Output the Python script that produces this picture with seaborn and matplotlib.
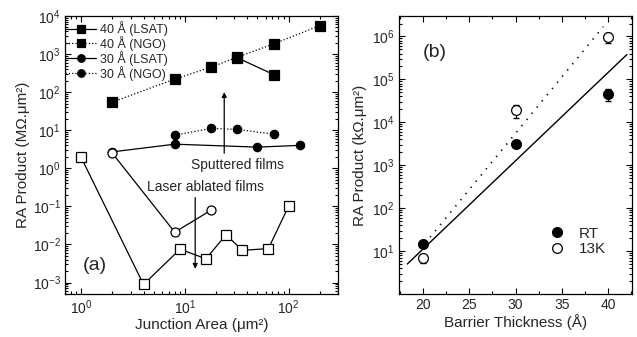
import numpy as np
import matplotlib
matplotlib.use("Agg")
import matplotlib.pyplot as plt
import matplotlib.ticker as mticker
from matplotlib.lines import Line2D
import seaborn as sns

# ---------------- data: panel (a) ----------------
lsat40_area = [32, 72]
lsat40_ra = [800, 290]
ngo40_area = [2, 8, 18, 32, 72, 200]
ngo40_ra = [55, 220, 455, 830, 1850, 5600]
lsat30_area = [2, 8, 50, 128]
lsat30_ra = [2.7, 4.3, 3.6, 4.0]
ngo30_area = [8, 18, 32, 72]
ngo30_ra = [7.4, 11.2, 10.5, 7.9]
laser_circ_area = [2, 8, 18]
laser_circ_ra = [2.5, 0.021, 0.08]
laser_sq_area = [1, 4, 9, 16, 25, 36, 64, 100]
laser_sq_ra = [1.95, 0.00089, 0.0075, 0.0042, 0.018, 0.007, 0.0078, 0.1]

# ---------------- data: panel (b) ----------------
thick = [20, 30, 40]
rt_ra = [14.6, 3.1e3, 4.6e4]
rt_lo = [13.0, 2.8e3, 3.1e4]
rt_hi = [16.0, 3.4e3, 5.9e4]
k13_ra = [6.8, 1.9e4, 9.8e5]
k13_lo = [5.3, 1.25e4, 6.9e5]
k13_hi = [7.5, 2.5e4, 1.2e6]
fit_rt_x = [18.3, 42.05]
fit_rt_y = [5.0, 3.8e5]
fit_13k_x = [20.76, 39.5]
fit_13k_y = [21.0, 1.7e6]

sns.set_style("ticks")
plt.rcParams["font.family"] = ["Liberation Sans", "DejaVu Sans"]
plt.rcParams["mathtext.fontset"] = "custom"
plt.rcParams["mathtext.rm"] = "Liberation Sans"
plt.rcParams["mathtext.it"] = "Liberation Sans:italic"
plt.rcParams["mathtext.default"] = "regular"

fig = plt.figure(figsize=(6.37, 3.37), dpi=100)
axa = fig.add_axes([65/637, 43/337, 273/637, 278/337])
axb = fig.add_axes([399/637, 43/337, 233/637, 278/337])

k = "black"
ms_sq = 6.5
ms_c = 6.0

def line(ax, x, y, marker, ls, filled, ms, label=None):
    sns.lineplot(x=x, y=y, ax=ax, color=k, linestyle=ls, linewidth=0.9,
                 marker=marker, markersize=ms,
                 markerfacecolor=(k if filled else "white"),
                 markeredgecolor=k, markeredgewidth=0.9,
                 label=label, sort=False, errorbar=None)

line(axa, lsat40_area, lsat40_ra, "s", "-", True, ms_sq, "40 Å (LSAT)")
line(axa, ngo40_area, ngo40_ra, "s", ":", True, ms_sq, "40 Å (NGO)")
line(axa, lsat30_area, lsat30_ra, "o", "-", True, ms_c, "30 Å (LSAT)")
line(axa, ngo30_area, ngo30_ra, "o", ":", True, ms_c, "30 Å (NGO)")
line(axa, laser_circ_area, laser_circ_ra, "o", "-", False, ms_c + 0.5)
line(axa, laser_sq_area, laser_sq_ra, "s", "-", False, ms_sq)

axa.set_xscale("log")
axa.set_yscale("log")
axa.yaxis.set_minor_locator(mticker.LogLocator(base=10, subs=np.arange(2, 10), numticks=20))
axa.yaxis.set_minor_formatter(mticker.NullFormatter())
axa.set_yticks([1e-3, 1e-2, 1e-1, 1, 10, 100, 1e3, 1e4])
axa.set_ylim(5e-4, 1e4)
axa.set_xticks([1, 10, 100])
axa.set_xlim(0.7, 300)
axa.set_xlabel("Junction Area (μm²)", fontsize=11, labelpad=1)
axa.set_ylabel("RA Product (MΩ.μm²)", fontsize=11, labelpad=2)

leg = axa.legend(loc="upper left", bbox_to_anchor=(0.0, 0.982), borderaxespad=0.0,
                 frameon=False, fontsize=9, handlelength=2.5, handletextpad=0.3,
                 labelspacing=0.0, borderpad=0.0, markerscale=0.9)

axa.annotate("", xy=(24, 100), xytext=(24, 2.5),
             arrowprops=dict(arrowstyle="-|>", color=k, lw=0.9,
                             mutation_scale=7, shrinkA=0, shrinkB=0))
axa.annotate("", xy=(12.6, 0.0023), xytext=(12.6, 0.17),
             arrowprops=dict(arrowstyle="-|>", color=k, lw=0.9,
                             mutation_scale=7, shrinkA=0, shrinkB=0))
axa.text(32, 1.2, "Sputtered films", ha="center", va="center", fontsize=10)
axa.text(15.8, 0.32, "Laser ablated films", ha="center", va="center", fontsize=10)
axa.text(0.11, 0.104, "(a)", transform=axa.transAxes, ha="center", va="center", fontsize=14)

# ---------------- panel (b) ----------------
sns.lineplot(x=fit_rt_x, y=fit_rt_y, ax=axb, color=k, linewidth=1.0, linestyle="-")
sns.lineplot(x=fit_13k_x, y=fit_13k_y, ax=axb, color=k, linewidth=1.2,
             linestyle=(0, (0.8, 4.0)))
rt_err = [np.array(rt_ra) - np.array(rt_lo), np.array(rt_hi) - np.array(rt_ra)]
k13_err = [np.array(k13_ra) - np.array(k13_lo), np.array(k13_hi) - np.array(k13_ra)]
axb.errorbar(thick, rt_ra, yerr=rt_err, fmt="none", ecolor=k, elinewidth=0.8, capsize=2)
axb.errorbar(thick, k13_ra, yerr=k13_err, fmt="none", ecolor=k, elinewidth=0.8, capsize=2)
sns.scatterplot(x=thick, y=rt_ra, ax=axb, marker="o", s=50, color=k,
                edgecolor=k, linewidth=0.9, zorder=3)
sns.scatterplot(x=thick, y=k13_ra, ax=axb, marker="o", s=50, facecolor="white",
                edgecolor=k, linewidth=0.9, zorder=3)

axb.set_yscale("log")
axb.set_xticks([20, 25, 30, 35, 40])
axb.set_xlim(17.4, 42.6)
axb.xaxis.set_minor_locator(mticker.MultipleLocator(2.5))
axb.yaxis.set_minor_locator(mticker.LogLocator(base=10, subs=np.arange(2, 10), numticks=20))
axb.yaxis.set_minor_formatter(mticker.NullFormatter())
axb.set_yticks([1e1, 1e2, 1e3, 1e4, 1e5, 1e6])
axb.set_ylim(1, 3e6)
axb.set_xlabel("Barrier Thickness (Å)", fontsize=11, labelpad=1)
axb.set_ylabel("RA Product (kΩ.μm²)", fontsize=11, labelpad=4)
axb.text(0.155, 0.867, "(b)", transform=axb.transAxes, ha="center", va="center", fontsize=14)

hb = [Line2D([], [], linestyle="none", marker="o", markersize=7, markerfacecolor=k,
             markeredgecolor=k),
      Line2D([], [], linestyle="none", marker="o", markersize=7, markerfacecolor="white",
             markeredgecolor=k, markeredgewidth=0.9)]
axb.legend(hb, ["RT", "13K"], loc="lower right", bbox_to_anchor=(0.92, 0.108),
           frameon=False, fontsize=11, handlelength=1.0, handletextpad=0.9,
           labelspacing=0.1, borderpad=0.0)

for ax in (axa, axb):
    ax.tick_params(which="both", direction="in", top=True, right=True, labelsize=10,
                   color=k, width=0.8)
    ax.tick_params(which="major", length=4, pad=3)
    ax.tick_params(which="minor", length=2)
    for s in ax.spines.values():
        s.set_linewidth(0.9)
        s.set_color(k)

fig.savefig("out.png", dpi=100)
